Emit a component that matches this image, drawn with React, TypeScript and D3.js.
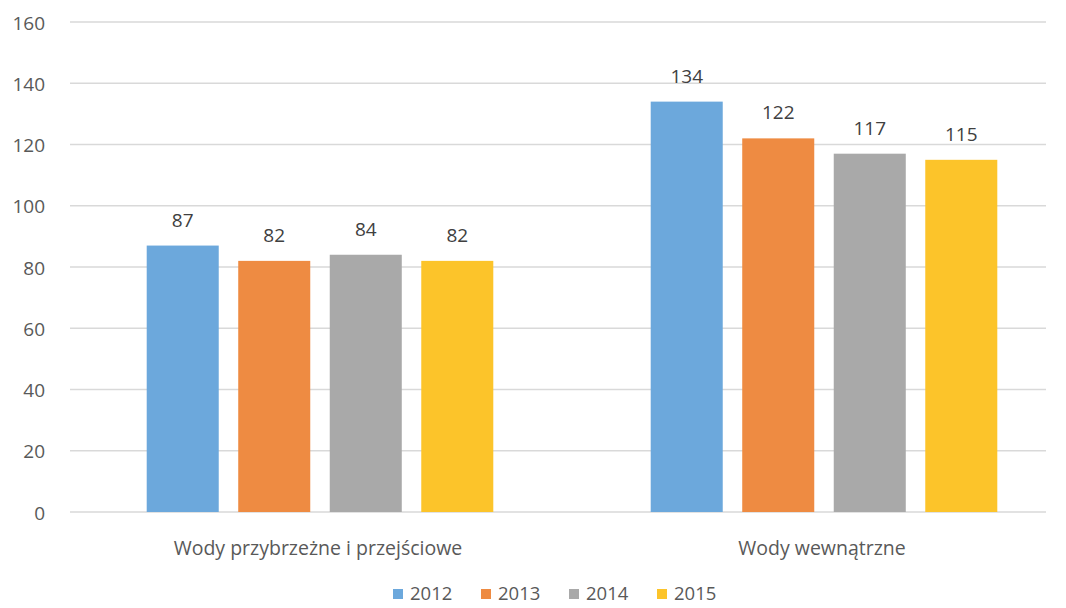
import React from "react";
import * as d3 from "d3";

const categories = ["Wody przybrzeżne i przejściowe", "Wody wewnątrzne"];
const years = ["2012", "2013", "2014", "2015"];
const values: number[][] = [
  [87, 82, 84, 82],
  [134, 122, 117, 115],
];
const colors = ["#6CA8DC", "#EE8B42", "#A9A9A9", "#FCC42A"];
const yTicks = [0, 20, 40, 60, 80, 100, 120, 140, 160];

const W = 1066;
const H = 608;
const FONT = "'Open Sans', sans-serif";

export default function App() {
  const y = d3.scaleLinear().domain([0, 160]).range([512, 22]);
  const x0 = d3.scaleBand<string>().domain(categories).range([68, 1076]).paddingInner(0).paddingOuter(0);
  const x1 = d3
    .scaleBand<string>()
    .domain(years)
    .range([0, x0.bandwidth()])
    .paddingInner(0.213)
    .paddingOuter(0.86);

  const legendStart = 393;
  const legendStep = 88;

  return (
    <svg width={W} height={H} style={{ position: "absolute", left: 0, top: 0, background: "#fff" }}>
      {yTicks.map((t) => (
        <g key={t}>
          <line x1={70} x2={1046} y1={y(t)} y2={y(t)} stroke="#D9D9D9" strokeWidth={1.5} />
          <text x={45} y={y(t) + 1} dy="0.35em" textAnchor="end" fontFamily={FONT} fontSize={19} fill="#595959">
            {t}
          </text>
        </g>
      ))}
      {categories.map((c, ci) => (
        <g key={c} transform={`translate(${x0(c)},0)`}>
          {years.map((yr, yi) => {
            const v = values[ci][yi];
            const bx = x1(yr)!;
            return (
              <g key={yr}>
                <rect x={bx} y={y(v)} width={x1.bandwidth()} height={y(0) - y(v)} fill={colors[yi]} />
                <text
                  x={bx + x1.bandwidth() / 2}
                  y={y(v) - 19}
                  textAnchor="middle"
                  fontFamily={FONT}
                  fontSize={19}
                  fill="#404040"
                >
                  {v}
                </text>
              </g>
            );
          })}
          <text
            x={x0.bandwidth() / 2 - 2}
            y={555}
            textAnchor="middle"
            fontFamily={FONT}
            fontSize={19.5}
            fill="#595959"
          >
            {c}
          </text>
        </g>
      ))}
      {years.map((yr, i) => (
        <g key={yr} transform={`translate(${legendStart + i * legendStep},0)`}>
          <rect x={0} y={589} width={10} height={10} fill={colors[i]} />
          <text x={17} y={594} dy="0.35em" fontFamily={FONT} fontSize={18.5} fill="#595959">
            {yr}
          </text>
        </g>
      ))}
    </svg>
  );
}
